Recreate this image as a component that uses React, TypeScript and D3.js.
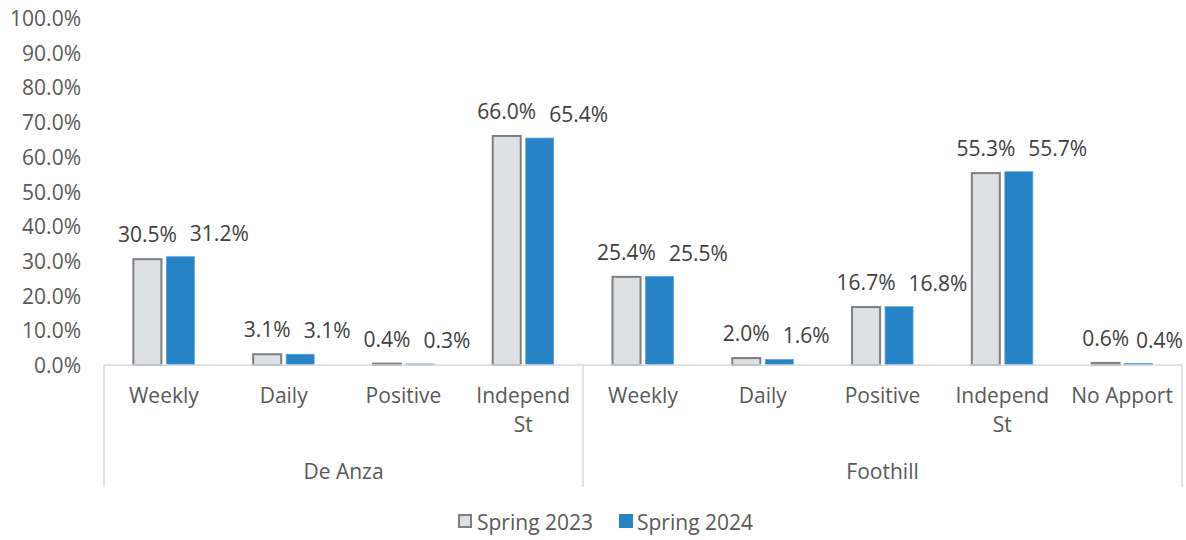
import React from 'react';
import * as d3 from 'd3';

const groups = ['De Anza', 'Foothill'];
const categories = ['Weekly', 'Daily', 'Positive', 'Independ St', 'Weekly', 'Daily', 'Positive', 'Independ St', 'No Apport'];
const categoryGroup = [0, 0, 0, 0, 1, 1, 1, 1, 1];
const spring2023 = [30.5, 3.1, 0.4, 66.0, 25.4, 2.0, 16.7, 55.3, 0.6];
const spring2024 = [31.2, 3.1, 0.3, 65.4, 25.5, 1.6, 16.8, 55.7, 0.4];
const yTicks = [0, 10, 20, 30, 40, 50, 60, 70, 80, 90, 100];
const seriesNames = ['Spring 2023', 'Spring 2024'];

const width = 1186;
const height = 540;
const margin = { top: 18, right: 4, bottom: 175, left: 104 };
const FONT = '"Open Sans", sans-serif';
const FS = 21;
const axisColor = '#595959';
const labelColor = '#404040';
const gridColor = '#D9D9D9';
const grayFill = '#DEE1E4';
const grayStroke = '#7F7F7F';
const blue = '#2683C6';

// approximate Open Sans advance widths (em)
const textW = (s: string) =>
  s.split('').reduce((w, ch) => w + (ch === '.' ? 0.27 : ch === '%' ? 0.82 : 0.572), 0) * FS;

const App: React.FC = () => {
  const x0 = margin.left;
  const x1 = width - margin.right;
  const y0 = height - margin.bottom;

  const x = d3.scaleBand<number>()
    .domain(d3.range(categories.length))
    .range([x0, x1]);

  const y = d3.scaleLinear()
    .domain([0, 100])
    .range([y0, margin.top]);

  const barW = 28;
  const barGap = 5;
  const fmt = (v: number) => `${v.toFixed(1)}%`;

  const groupStarts = groups.map((_, g) => categoryGroup.indexOf(g));
  const groupEnds = groups.map((_, g) => categoryGroup.lastIndexOf(g));
  const boundaries = [x0, ...groupEnds.map(e => (x(e) as number) + x.bandwidth())];

  return (
    <div style={{ position: 'absolute', left: 0, top: 0 }}>
      <svg width={width} height={height} style={{ fontFamily: FONT, display: 'block' }}>
        {/* y tick labels */}
        {yTicks.map(t => (
          <text key={t} x={81} y={y(t)} textAnchor="end" dominantBaseline="central"
            fontSize={FS} fill={axisColor}>{fmt(t)}</text>
        ))}

        {/* bars */}
        {categories.map((_, i) => {
          const cx = (x(i) as number) + x.bandwidth() / 2;
          const gx = cx - barGap / 2 - barW;
          const bx = cx + barGap / 2;
          const gTop = y(spring2023[i]);
          const bTop = y(spring2024[i]);
          const gLabel = fmt(spring2023[i]);
          const bLabel = fmt(spring2024[i]);
          const gLabelRight = gx + barW / 2 + textW(gLabel) / 2;
          let bLabelCenter = Math.max(bx + barW / 2, gLabelRight + 13 + textW(bLabel) / 2);
          bLabelCenter = Math.min(bLabelCenter, width - 3 - textW(bLabel) / 2);
          return (
            <g key={i}>
              <rect x={gx} y={gTop} width={barW} height={y0 - gTop}
                fill={grayFill} stroke={grayStroke} strokeWidth={2} />
              <rect x={bx} y={bTop} width={barW} height={y0 - bTop}
                fill={blue} stroke="#5AA2DA" strokeWidth={0.75} />
              <text x={gx + barW / 2} y={gTop - 25} textAnchor="middle" dominantBaseline="central"
                fontSize={FS} fill={labelColor}>{gLabel}</text>
              <text x={bLabelCenter} y={bTop - 24} textAnchor="middle" dominantBaseline="central"
                fontSize={FS} fill={labelColor}>{bLabel}</text>
            </g>
          );
        })}

        {/* x axis line */}
        <line x1={x0} x2={x1} y1={y0} y2={y0} stroke={gridColor} strokeWidth={1.5} />
        {boundaries.map((bx, i) => (
          <line key={i} x1={bx} x2={bx} y1={y0} y2={487} stroke={gridColor} strokeWidth={1.5} />
        ))}

        {/* category labels */}
        {categories.map((c, i) => {
          const cx = (x(i) as number) + x.bandwidth() / 2;
          const words = c === 'Independ St' ? ['Independ', 'St'] : [c];
          return (
            <text key={i} x={cx} textAnchor="middle" fontSize={FS} fill={axisColor}>
              {words.map((w, k) => (
                <tspan key={k} x={cx} y={403 + k * 29}>{w}</tspan>
              ))}
            </text>
          );
        })}

        {/* group labels */}
        {groups.map((g, gi) => {
          const a = x(groupStarts[gi]) as number;
          const b = (x(groupEnds[gi]) as number) + x.bandwidth();
          return (
            <text key={g} x={(a + b) / 2} y={479} textAnchor="middle" fontSize={FS} fill={axisColor}>{g}</text>
          );
        })}

        {/* legend */}
        <g>
          <rect x={459} y={515} width={12} height={12} fill={grayFill} stroke={grayStroke} strokeWidth={2} />
          <text x={477} y={522} dominantBaseline="central" fontSize={FS} fill={axisColor}>{seriesNames[0]}</text>
          <rect x={619} y={514} width={14} height={14} fill={blue} />
          <text x={637} y={522} dominantBaseline="central" fontSize={FS} fill={axisColor}>{seriesNames[1]}</text>
        </g>
      </svg>
    </div>
  );
};

export default App;
